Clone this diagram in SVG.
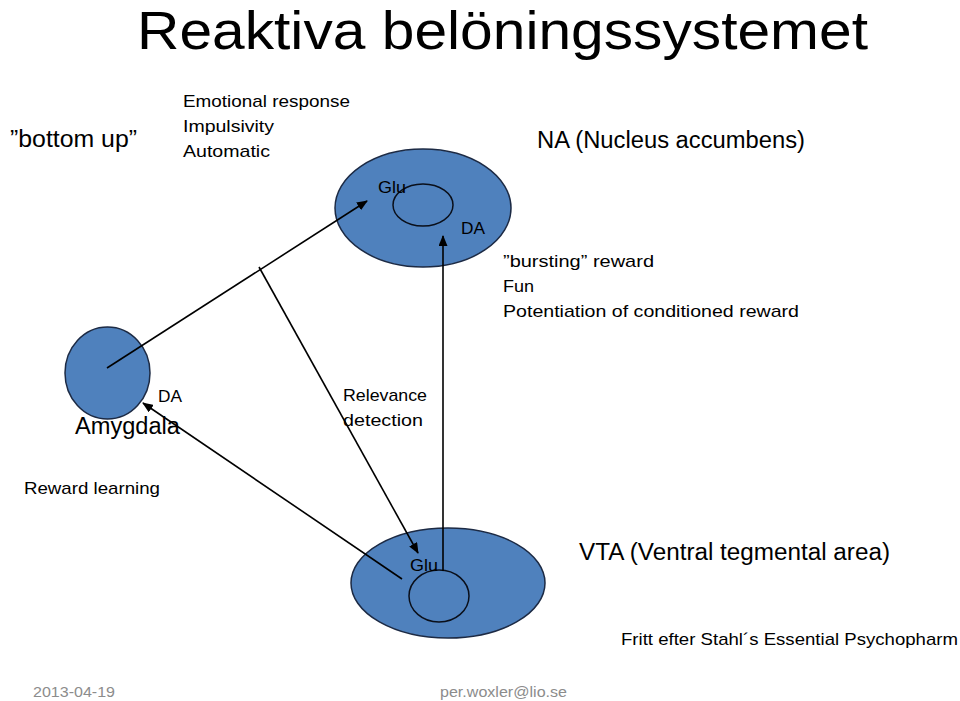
<svg xmlns="http://www.w3.org/2000/svg" width="960" height="701" viewBox="0 0 960 701">
<defs>
<marker id="arr" markerWidth="11" markerHeight="9" refX="10" refY="4.5" orient="auto" markerUnits="userSpaceOnUse">
<path d="M0,0 L11,4.5 L0,9 z" fill="#000"/>
</marker>
<style>
text{font-family:"Liberation Sans",Arial,sans-serif;fill:#000}
.s18{font-size:17px}
.s24{font-size:23px}
.big{font-size:53px}
.foot{font-size:15px;fill:#8c8c8c}
.blob{fill:#4f81bd;stroke:#1c2a44;stroke-width:1.5}
.inner{fill:none;stroke:#0a0f1a;stroke-width:1.5}
.ln{stroke:#000;stroke-width:1.6;fill:none}
</style>
</defs>
<rect width="960" height="701" fill="#fff"/>
<text class="big" x="137" y="49" textLength="731" lengthAdjust="spacingAndGlyphs">Reaktiva belöningssystemet</text>
<text class="s24" x="10" y="147" textLength="127" lengthAdjust="spacingAndGlyphs">”bottom up”</text>
<text class="s18" x="183" y="107" textLength="167" lengthAdjust="spacingAndGlyphs">Emotional response</text>
<text class="s18" x="183" y="132" textLength="91" lengthAdjust="spacingAndGlyphs">Impulsivity</text>
<text class="s18" x="183" y="157" textLength="87" lengthAdjust="spacingAndGlyphs">Automatic</text>
<text class="s24" x="537" y="148" textLength="268" lengthAdjust="spacingAndGlyphs">NA (Nucleus accumbens)</text>
<g id="na">
<ellipse class="blob" cx="423" cy="208" rx="88" ry="59"/>
<ellipse class="inner" cx="423" cy="205" rx="30" ry="21"/>
<text class="s18" x="378" y="193" textLength="28" lengthAdjust="spacingAndGlyphs">Glu</text>
<text class="s18" x="461" y="234" textLength="24" lengthAdjust="spacingAndGlyphs">DA</text>
</g>
<text class="s18" x="503" y="267" textLength="151" lengthAdjust="spacingAndGlyphs">”bursting” reward</text>
<text class="s18" x="503" y="292" textLength="31" lengthAdjust="spacingAndGlyphs">Fun</text>
<text class="s18" x="503" y="317" textLength="296" lengthAdjust="spacingAndGlyphs">Potentiation of conditioned reward</text>
<g id="amygdala">
<ellipse class="blob" cx="107.5" cy="373" rx="42.5" ry="46"/>
<text class="s18" x="158" y="402" textLength="24" lengthAdjust="spacingAndGlyphs">DA</text>
<text class="s24" x="75" y="434" textLength="105" lengthAdjust="spacingAndGlyphs">Amygdala</text>
</g>
<text class="s18" x="343" y="401" textLength="84" lengthAdjust="spacingAndGlyphs">Relevance</text>
<text class="s18" x="343" y="426" textLength="80" lengthAdjust="spacingAndGlyphs">detection</text>
<text class="s18" x="24" y="494" textLength="136" lengthAdjust="spacingAndGlyphs">Reward learning</text>
<g id="vta">
<ellipse class="blob" cx="448" cy="583" rx="97" ry="55"/>
<ellipse class="inner" cx="439" cy="596" rx="30" ry="26"/>
</g>
<g id="connectors">
<line class="ln" x1="107" y1="368" x2="367" y2="201" marker-end="url(#arr)"/>
<line class="ln" x1="259" y1="267" x2="418" y2="553" marker-end="url(#arr)"/>
<line class="ln" x1="443" y1="571" x2="443" y2="236" marker-end="url(#arr)"/>
<line class="ln" x1="402" y1="579" x2="143" y2="403" marker-end="url(#arr)"/>
</g>
<text class="s18" x="410" y="571" textLength="28" lengthAdjust="spacingAndGlyphs">Glu</text>
<text class="s24" x="579" y="560" textLength="311" lengthAdjust="spacingAndGlyphs">VTA (Ventral tegmental area)</text>
<text class="s18" x="621" y="645" textLength="337" lengthAdjust="spacingAndGlyphs">Fritt efter Stahl´s Essential Psychopharm</text>
<text class="foot" x="33" y="697" textLength="82" lengthAdjust="spacingAndGlyphs">2013-04-19</text>
<text class="foot" x="440" y="697" textLength="127" lengthAdjust="spacingAndGlyphs">per.woxler@lio.se</text>
</svg>
